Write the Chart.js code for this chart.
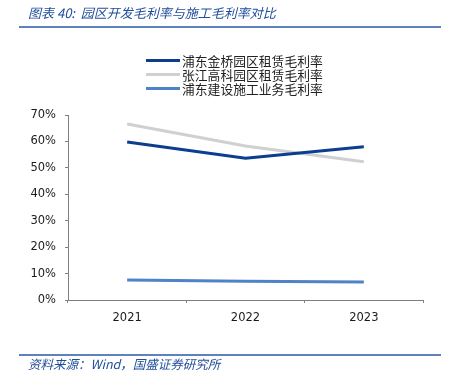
<!DOCTYPE html>
<html>
<head>
<meta charset="utf-8">
<script src="https://cdn.jsdelivr.net/npm/chart.js@4"></script>
<style>
  html, body { margin: 0; padding: 0; background: #fff; }
  canvas { display: block; }
</style>
</head>
<body>
<canvas id="chart" width="454" height="381"></canvas>
<script>
const years = ['2021', '2022', '2023'];
const jinqiaoRent = [59.8, 53.6, 58.0];
const zhangjiangRent = [66.6, 58.3, 52.3];
const constructionGross = [7.6, 7.1, 6.8];
const yTicks = [0, 10, 20, 30, 40, 50, 60, 70];

const titleText = '图表 40:  园区开发毛利率与施工毛利率对比';
const sourceText = '资料来源：Wind，国盛证券研究所';

const series = [
    { label: '浦东金桥园区租赁毛利率', data: jinqiaoRent, color: '#0B3E8E' },
    { label: '张江高科园区租赁毛利率', data: zhangjiangRent, color: '#D0D0D0' },
    { label: '浦东建设施工业务毛利率', data: constructionGross, color: '#4F82C6' },
];

const CJK = '"Noto Sans CJK SC", "DejaVu Sans", sans-serif';

// title, rules, legend and source are drawn by hand
const decorations = {
    id: 'decorations',
    afterDraw(chart) {
        const ctx = chart.ctx;
        ctx.save();
        ctx.fillStyle = '#1F4C9A';
        ctx.textBaseline = 'middle';
        ctx.textAlign = 'left';
        ctx.font = 'italic 13px ' + CJK;
        ctx.fillText(titleText, 28, 13);

        ctx.strokeStyle = '#2B5AA6';
        ctx.lineWidth = 1.5;
        ctx.beginPath();
        ctx.moveTo(19, 27); ctx.lineTo(441, 27);
        ctx.moveTo(19, 355); ctx.lineTo(441, 355);
        ctx.stroke();

        ctx.font = 'italic 12.5px ' + CJK;
        ctx.fillText(sourceText, 28, 364);

        // legend
        const rows = [60.5, 74.5, 88.5];
        ctx.font = '12.8px ' + CJK;
        series.forEach((s, i) => {
            ctx.strokeStyle = s.color;
            ctx.lineWidth = 3;
            ctx.beginPath();
            ctx.moveTo(146, rows[i]); ctx.lineTo(180, rows[i]);
            ctx.stroke();
            ctx.fillStyle = '#222';
            ctx.fillText(s.label, 182, rows[i] + 0.5);
        });
        ctx.restore();
    }
};

new Chart(document.getElementById('chart').getContext('2d'), {
    type: 'line',
    data: {
        labels: years,
        datasets: series.map(s => ({
            label: s.label,
            data: s.data,
            borderColor: s.color,
            backgroundColor: s.color,
            borderWidth: 3,
            tension: 0,
            pointRadius: 0,
            pointHoverRadius: 0,
            fill: false,
        }))
    },
    options: {
        responsive: false,
        animation: false,
        layout: { padding: { top: 115, right: 31, left: 0, bottom: 0 } },
        scales: {
            x: {
                offset: true,
                grid: { offset: true, drawOnChartArea: false, drawTicks: true, tickLength: 3, color: '#808080' },
                border: { color: '#808080', width: 1 },
                ticks: { color: '#1a1a1a', font: { family: 'DejaVu Sans', size: 11.5 }, padding: 8, maxRotation: 0 },
                afterFit(scale) { scale.height = 81; }
            },
            y: {
                min: 0,
                max: 70,
                afterBuildTicks(scale) { scale.ticks = yTicks.map(v => ({ value: v })); },
                grid: { drawOnChartArea: false, drawTicks: true, tickLength: 3, color: '#808080' },
                border: { color: '#808080', width: 1 },
                ticks: {
                    color: '#1a1a1a',
                    font: { family: 'DejaVu Sans', size: 11.5 },
                    padding: 9,
                    callback: v => v + '%'
                },
                afterFit(scale) { scale.width = 68; }
            }
        },
        plugins: {
            legend: { display: false },
            title: { display: false },
            tooltip: { enabled: false }
        }
    },
    plugins: [decorations]
});
</script>
</body>
</html>
